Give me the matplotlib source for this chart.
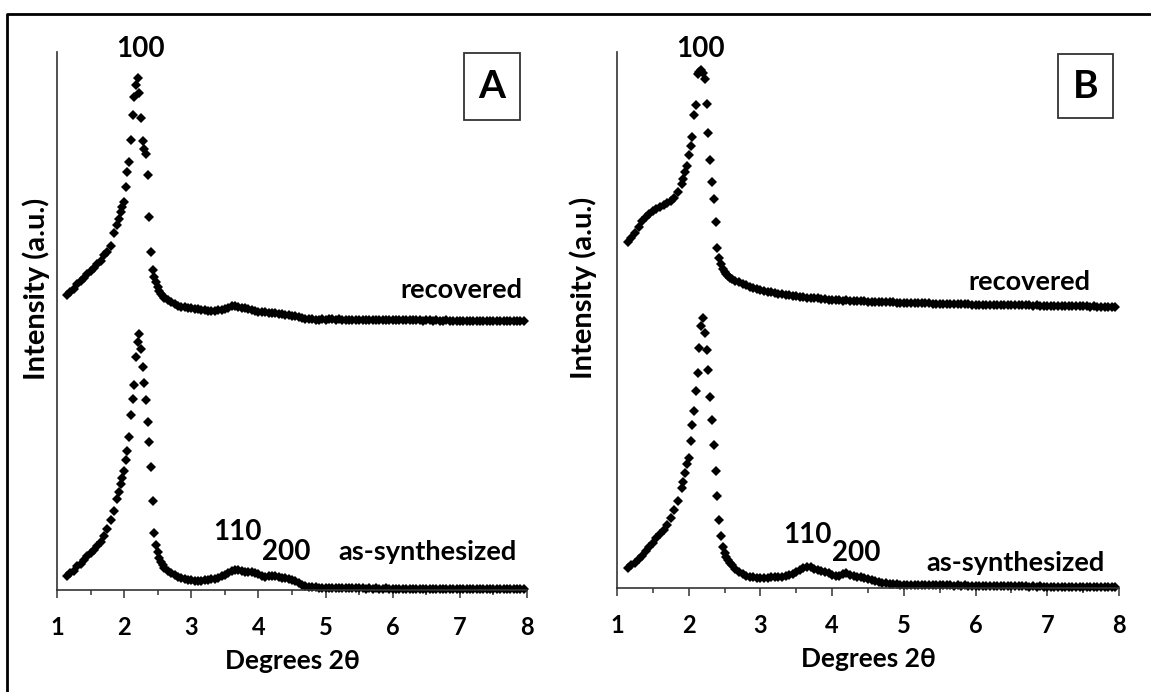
import matplotlib.pyplot as plt
from matplotlib.lines import Line2D
from matplotlib.patches import Rectangle
from matplotlib.ticker import MultipleLocator

plt.rcParams["font.family"] = ["Lato", "DejaVu Sans"]
plt.rcParams["font.weight"] = "bold"

# 2-theta scan positions (deg); finer steps across the 100 reflection
two_theta = [
    1.15, 1.20, 1.25, 1.30, 1.35, 1.40, 1.45, 1.50, 1.55, 1.60, 1.65, 1.70, 1.75, 1.80, 1.85, 1.90,
    1.925, 1.950, 1.975, 2.000, 2.025, 2.050, 2.075, 2.100, 2.125, 2.150, 2.175, 2.200, 2.225,
    2.250, 2.275, 2.300, 2.325, 2.350, 2.375, 2.400, 2.425, 2.450, 2.475, 2.500, 2.525, 2.550, 2.575,
    2.60, 2.65, 2.70, 2.75, 2.80, 2.85, 2.90, 2.95, 3.00, 3.05,
    3.10, 3.15, 3.20, 3.25, 3.30, 3.35, 3.40, 3.45, 3.50, 3.55,
    3.60, 3.65, 3.70, 3.75, 3.80, 3.85, 3.90, 3.95, 4.00, 4.05,
    4.10, 4.15, 4.20, 4.25, 4.30, 4.35, 4.40, 4.45, 4.50, 4.55,
    4.60, 4.65, 4.70, 4.75, 4.80, 4.85, 4.90, 4.95, 5.00, 5.05,
    5.10, 5.15, 5.20, 5.25, 5.30, 5.35, 5.40, 5.45, 5.50, 5.55,
    5.60, 5.65, 5.70, 5.75, 5.80, 5.85, 5.90, 5.95, 6.00, 6.05,
    6.10, 6.15, 6.20, 6.25, 6.30, 6.35, 6.40, 6.45, 6.50, 6.55,
    6.60, 6.65, 6.70, 6.75, 6.80, 6.85, 6.90, 6.95, 7.00, 7.05,
    7.10, 7.15, 7.20, 7.25, 7.30, 7.35, 7.40, 7.45, 7.50, 7.55,
    7.60, 7.65, 7.70, 7.75, 7.80, 7.85, 7.90, 7.95,
]

# sample A
a_synth = [
    14.5, 17, 19.5, 24, 26.5, 30, 34, 37, 40.5, 44, 48.5, 54.5, 61.5, 70, 79, 91,
    98.5, 106, 112.5, 119, 130, 139, 153, 175, 191, 205, 233, 248, 256,
    241, 223, 207, 190, 168, 148, 123, 89, 57, 45.5, 38.5, 32, 28, 25.5,
    22.5, 19.5, 17, 15, 13.5, 12, 11, 10.5, 10, 9.5,
    9.5, 9.5, 10, 10.5, 11, 11.5, 12.5, 14, 15.5, 17,
    19, 20, 20.5, 19.5, 18.5, 18.5, 18, 17.5, 16, 14,
    13.5, 14, 14.5, 14.5, 13.5, 12.5, 12, 11, 10, 9,
    7.5, 5.5, 4, 3.5, 3, 2.7, 2.5, 2.5, 2.2, 2.2,
    2.0, 2.3, 2.0, 1.8, 2.1, 1.9, 1.7, 2.0, 1.6, 1.8,
    1.5, 1.7, 1.4, 1.6, 1.5, 1.3, 1.6, 1.2, 1.5, 1.3,
    1.1, 1.4, 1.2, 1.0, 1.3, 1.1, 0.9, 1.2, 1.0, 1.1,
    0.8, 1.0, 1.2, 0.9, 1.0, 0.8, 1.1, 0.9, 0.7, 1.0,
    0.8, 0.9, 0.7, 1.0, 0.8, 0.6, 0.9, 0.8, 0.7, 0.9,
    0.6, 0.8, 0.7, 0.9, 0.6, 0.8, 0.7, 0.8,
]
a_recov = [
    30, 33, 36, 41, 44, 47.5, 51, 54, 57, 61, 64, 70.5, 73.5, 79, 92, 100,
    106, 113, 118, 123, 138, 153, 163, 185, 210, 228, 240, 247, 232,
    207, 184, 176, 171, 150, 108, 73, 55, 48, 43, 38, 34, 31, 29,
    27, 25, 23, 21, 19.5, 18.5, 18, 17.5, 17, 16.5,
    16, 15.5, 15, 14.5, 14.5, 14.5, 15, 15.5, 16.5, 17.5,
    19, 19, 18.5, 17.5, 17, 16.5, 15.5, 14.5, 13.5, 13.5,
    13, 12.5, 12.5, 12, 11.5, 11, 10.5, 10, 9.5, 9,
    8, 7, 6.5, 6, 6, 5.5, 5.5, 5.8, 5.5, 5.6,
    5.7, 5.4, 5.6, 5.3, 5.5, 5.2, 5.4, 5.1, 5.3, 5.2,
    5.0, 5.3, 5.1, 4.9, 5.2, 5.0, 4.8, 5.1, 4.9, 5.0,
    4.8, 5.0, 4.7, 4.9, 4.6, 4.8, 4.7, 4.5, 4.8, 4.6,
    4.4, 4.7, 4.5, 4.3, 4.6, 4.4, 4.2, 4.5, 4.3, 4.4,
    4.2, 4.4, 4.1, 4.3, 4.0, 4.2, 4.1, 3.9, 4.2, 4.0,
    4.1, 3.9, 4.0, 3.8, 4.1, 3.9, 4.0, 3.8,
]

# sample B
b_synth = [
    19.8, 22.6, 25.4, 29, 32.5, 37, 41.5, 45.5, 50, 54.5, 58.5, 63.5, 70.5, 78.5, 87, 100,
    106, 115, 124, 130, 147, 163, 177, 197, 215, 240, 262, 270, 255,
    238, 218, 191, 168, 143, 117, 92, 68, 52, 41, 35, 31.5, 28, 25.5,
    23, 19.5, 16, 14, 12.5, 11.5, 11, 10.5, 10.5, 10.5,
    10.5, 10.8, 11, 11.3, 11.5, 12, 12.8, 13.8, 16, 18.5,
    20, 21.5, 21, 19.5, 18.5, 17.5, 16.5, 15, 13.5, 12,
    12.5, 14, 15, 13.5, 12, 11.5, 11, 10.5, 9.5, 8.5,
    7.5, 6.5, 5.5, 4.7, 4.2, 3.9, 3.6, 3.4, 3.3, 3.2,
    3.1, 3.3, 3.0, 2.9, 3.1, 2.8, 3.0, 2.7, 2.9, 2.7,
    2.6, 2.8, 2.5, 2.7, 2.4, 2.6, 2.3, 2.5, 2.2, 2.4,
    2.2, 2.0, 2.3, 2.1, 1.9, 2.1, 1.8, 2.0, 1.7, 1.9,
    1.7, 1.6, 1.8, 1.5, 1.7, 1.4, 1.6, 1.3, 1.5, 1.4,
    1.2, 1.4, 1.1, 1.3, 1.2, 1.0, 1.2, 0.9, 1.1, 1.0,
    0.9, 1.1, 0.8, 1.0, 0.8, 0.9, 0.7, 0.9,
]
b_recov = [
    68.5, 72, 77.5, 83.5, 89, 93.5, 96.5, 99, 101, 103, 105, 107, 109, 112.5, 118, 126,
    131, 138, 144, 155, 164, 173, 195, 205, 236, 238, 240, 237, 231,
    206, 177, 150, 128, 111, 88, 62, 52, 46, 41, 38, 36, 34, 32.5,
    31, 29.5, 28, 26.5, 25, 23.5, 22, 21, 20, 19.5,
    18.5, 18, 17, 16.5, 16, 15.5, 15, 14.5, 14, 13.5,
    13, 12.5, 12.2, 12, 11.6, 11.2, 10.8, 10.4, 10, 9.8,
    9.6, 9.4, 9.6, 9.2, 9.0, 9.1, 8.8, 8.7, 8.5, 8.4,
    8.2, 8.0, 8.1, 7.8, 7.6, 7.7, 7.4, 7.3, 7.4, 7.1,
    7.0, 6.9, 7.0, 6.7, 6.6, 6.7, 6.4, 6.3, 6.2, 6.0,
    6.1, 5.9, 5.8, 5.9, 5.7, 5.6, 5.7, 5.5, 5.4, 5.5,
    5.3, 5.4, 5.2, 5.1, 5.2, 5.0, 5.1, 4.9, 5.0, 4.9,
    4.8, 4.7, 4.8, 4.6, 4.5, 4.6, 4.4, 4.5, 4.3, 4.2,
    4.3, 4.1, 4.0, 4.1, 3.9, 3.8, 3.9, 3.7, 3.6, 3.7,
    3.5, 3.6, 3.4, 3.5, 3.3, 3.4, 3.2, 3.3,
]

# vertical shift of the recovered pattern above the as-synthesized one
recov_shift = {"A": 265, "B": 278}

# reflection labels: (text, 2theta, intensity)
hkl_labels = {
    "A": [("100", 2.25, 541), ("110", 3.68, 58), ("200", 4.41, 38)],
    "B": [("100", 2.16, 539), ("110", 3.66, 53), ("200", 4.33, 35)],
}
# curve labels: (text, right end 2theta, intensity)
curve_labels = {
    "A": [("recovered", 7.93, 300), ("as-synthesized", 7.84, 38)],
    "B": [("recovered", 7.60, 306), ("as-synthesized", 7.80, 25)],
}

W, H = 1151, 692
fig = plt.figure(figsize=(W / 100, H / 100), dpi=100)

# axes boxes in pixels: left, right, bottom, top
boxes = {"A": (57, 527, 590, 52), "B": (617, 1119, 588, 52)}
series = {"A": (a_synth, a_recov), "B": (b_synth, b_recov)}
ylabel_x = {"A": -0.045, "B": -0.068}
tag_box = {"A": (0.866, 0.874, 0.119, 0.125), "B": (0.8785, 0.877, 0.11, 0.119)}

for name in ["A", "B"]:
    l, r, b, t = boxes[name]
    ax = fig.add_axes([l / W, 1 - b / H, (r - l) / W, (b - t) / H])
    synth, recov = series[name]
    shift = recov_shift[name]

    ax.plot(two_theta, synth, ls="none", marker="D", ms=5.2, mew=0,
            color="black", clip_on=False)
    ax.plot(two_theta, [v + shift for v in recov], ls="none", marker="D",
            ms=5.2, mew=0, color="black", clip_on=False)

    ax.set_xlim(1, 8)
    ax.set_ylim(0, b - t)
    ax.set_yticks([])
    ax.xaxis.set_major_locator(MultipleLocator(1))
    ax.xaxis.set_minor_locator(MultipleLocator(0.5))
    ax.tick_params(axis="x", which="major", direction="out", length=5.5,
                   width=1.1, color="#333333", labelsize=17, pad=13)
    ax.tick_params(axis="x", which="minor", direction="out", length=3.3,
                   width=1.1, color="#333333")
    for side in ["top", "right"]:
        ax.spines[side].set_visible(False)
    for side in ["left", "bottom"]:
        ax.spines[side].set_linewidth(1.2)
        ax.spines[side].set_color("#333333")
    ax.patch.set_alpha(0)

    ax.set_xlabel("Degrees 2θ", fontsize=19, fontweight="bold")
    ax.xaxis.set_label_coords(0.5, -0.132)
    ax.xaxis.label.set_va("center")
    ax.set_ylabel("Intensity (a.u.)", fontsize=21, fontweight="bold")
    ax.yaxis.set_label_coords(ylabel_x[name], 0.56)
    ax.yaxis.label.set_va("center")

    for txt, x, y in hkl_labels[name]:
        ax.text(x, y, txt, ha="center", va="center", fontsize=20,
                fontweight="bold", clip_on=False)
    for txt, x, y in curve_labels[name]:
        ax.text(x, y, txt, ha="right", va="center", fontsize=19.5,
                fontweight="bold", clip_on=False)

    bx, by, bw, bh = tag_box[name]
    ax.add_patch(Rectangle((bx, by), bw, bh, transform=ax.transAxes,
                           fill=False, lw=1.3, ec="#333333", clip_on=False))
    ax.text(bx + bw / 2, by + bh / 2, name, transform=ax.transAxes,
            ha="center", va="center", fontsize=28, fontweight="bold")

# frame around the figure (top and left edges)
fig.add_artist(Line2D([7 / W, 7 / W, 1.0], [0.0, 1 - 14 / H, 1 - 14 / H],
                      transform=fig.transFigure, color="black", lw=2))

fig.savefig("out.png", dpi=100)
